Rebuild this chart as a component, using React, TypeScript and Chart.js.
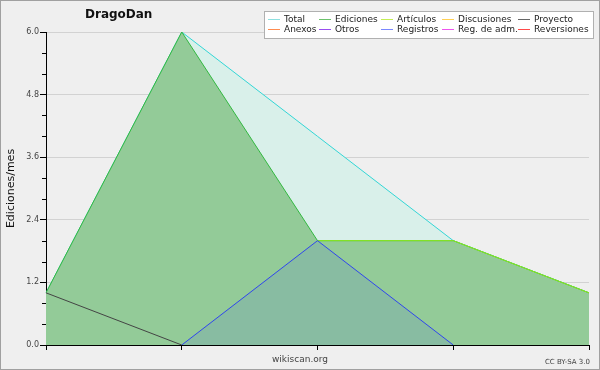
import { useEffect, useRef } from 'react';
import { Chart, registerables } from 'chart.js';
Chart.register(...registerables);

const labels = ['m1', 'm2', 'm3', 'm4', 'm5'];
const total = [1, 6, 4, 2, 1];
const ediciones = [1, 6, 2, 2, 1];
const articulos = [null, null, 2, 2, 1];
const registros = [null, 0, 2, 0, null];
const proyecto = [1, 0, null, null, null];
const yMajor = [0, 1.2, 2.4, 3.6, 4.8, 6.0];

const legendNames = ['Total', 'Ediciones', 'Artículos', 'Discusiones', 'Proyecto', 'Anexos', 'Otros', 'Registros', 'Reg. de adm.', 'Reversiones'];
const legendColors = ['#8ee0e0', '#6cc26c', '#c4ee55', '#ffd055', '#666666', '#ff8c50', '#9a4ef0', '#7a88ff', '#ee55ee', '#ff4a4a'];

const isMajor = (v: number) => yMajor.some((m) => Math.abs(m - v) < 1e-6);

const decor = {
  id: 'decor',
  beforeDraw(chart: any) {
    const ctx = chart.ctx;
    ctx.save();
    ctx.fillStyle = '#efefef';
    ctx.fillRect(0, 0, 600, 370);
    ctx.restore();
  },
  afterDraw(chart: any) {
    const ctx = chart.ctx;
    const y = chart.scales.y;
    const area = chart.chartArea;
    ctx.save();
    // minor ticks
    ctx.strokeStyle = '#000';
    ctx.lineWidth = 1;
    for (let v = 0; v <= 6.0001; v += 0.4) {
      if (isMajor(v)) continue;
      const py = Math.round(y.getPixelForValue(v)) + 0.5;
      ctx.beginPath();
      ctx.moveTo(area.left - 4, py);
      ctx.lineTo(area.left, py);
      ctx.stroke();
    }
    // title
    ctx.fillStyle = '#111';
    ctx.font = 'bold 12px "DejaVu Sans"';
    ctx.textBaseline = 'middle';
    ctx.textAlign = 'left';
    ctx.fillText('DragoDan', 85, 15);
    // y axis title
    ctx.save();
    ctx.translate(11, (area.top + area.bottom) / 2);
    ctx.rotate(-Math.PI / 2);
    ctx.textAlign = 'center';
    ctx.font = '11px "DejaVu Sans"';
    ctx.fillStyle = '#111';
    ctx.fillText('Ediciones/mes', 0, 0);
    ctx.restore();
    // footer
    ctx.font = '9px "DejaVu Sans"';
    ctx.fillStyle = '#444';
    ctx.textAlign = 'center';
    ctx.fillText('wikiscan.org', 300, 360);
    ctx.font = '7px "DejaVu Sans"';
    ctx.textAlign = 'right';
    ctx.fillText('CC BY-SA 3.0', 590, 362);
    // legend
    ctx.fillStyle = '#ffffff';
    ctx.fillRect(265, 12, 328, 26);
    ctx.strokeStyle = '#b0b0b0';
    ctx.strokeRect(264.5, 11.5, 329, 27);
    const colX = [268, 319, 381, 442, 518];
    ctx.font = '9px "DejaVu Sans"';
    ctx.textAlign = 'left';
    legendNames.forEach((n, i) => {
      const c = i % 5;
      const r = Math.floor(i / 5);
      const ly = r === 0 ? 19 : 29;
      ctx.strokeStyle = legendColors[i];
      ctx.beginPath();
      ctx.moveTo(colX[c], ly + 0.5);
      ctx.lineTo(colX[c] + 12, ly + 0.5);
      ctx.stroke();
      ctx.fillStyle = '#222';
      ctx.fillText(n, colX[c] + 16, ly + 1);
    });
    // outer border
    ctx.strokeStyle = '#a0a0a0';
    ctx.strokeRect(0.5, 0.5, 599, 369);
    ctx.restore();
  },
};

export default function App() {
  const ref = useRef<HTMLCanvasElement>(null);
  useEffect(() => {
    const chart = new Chart(ref.current!, {
      type: 'line',
      data: {
        labels,
        datasets: [
          { label: 'Total', data: total, borderColor: '#33d6d6', backgroundColor: '#d9f0ea', fill: 'origin', order: 10 },
          { label: 'Ediciones', data: ediciones, borderColor: '#33b840', backgroundColor: '#93cb98', fill: 'origin', order: 9 },
          { label: 'Artículos', data: articulos, borderColor: '#8ee81c', backgroundColor: 'transparent', fill: false, order: 8 },
          { label: 'Proyecto', data: proyecto, borderColor: '#444444', backgroundColor: 'transparent', fill: false, order: 6 },
          { label: 'Registros', data: registros, borderColor: '#2f45ee', backgroundColor: 'rgba(60,90,230,0.13)', fill: 'origin', order: 3 },
        ] as any,
      },
      options: {
        responsive: false,
        animation: false,
        devicePixelRatio: 1,
        layout: { padding: { left: 0, top: 32, right: 11, bottom: 0 } },
        elements: { point: { radius: 0 }, line: { borderWidth: 1, tension: 0 } },
        plugins: { legend: { display: false }, tooltip: { enabled: false } },
        scales: {
          x: {
            ticks: { display: false },
            grid: { drawOnChartArea: false, drawTicks: true, tickLength: 5, tickColor: '#000' },
            border: { color: '#000' },
            afterFit: (s: any) => { s.height = 25; },
          },
          y: {
            min: 0,
            max: 6,
            ticks: {
              stepSize: 1.2,
              padding: 1,
              color: '#444',
              font: { family: 'DejaVu Sans', size: 8 },
              callback: (v: any) => Number(v).toFixed(1),
            },
            grid: { color: '#d2d2d2', tickLength: 6, tickColor: '#000' },
            border: { color: '#000' },
            afterFit: (s: any) => { s.width = 46; },
          },
        },
      } as any,
      plugins: [decor],
    });
    return () => chart.destroy();
  }, []);
  return (
    <div style={{ position: 'absolute', left: 0, top: 0, width: 600, height: 370 }}>
      <canvas ref={ref} width={600} height={370} />
    </div>
  );
}
